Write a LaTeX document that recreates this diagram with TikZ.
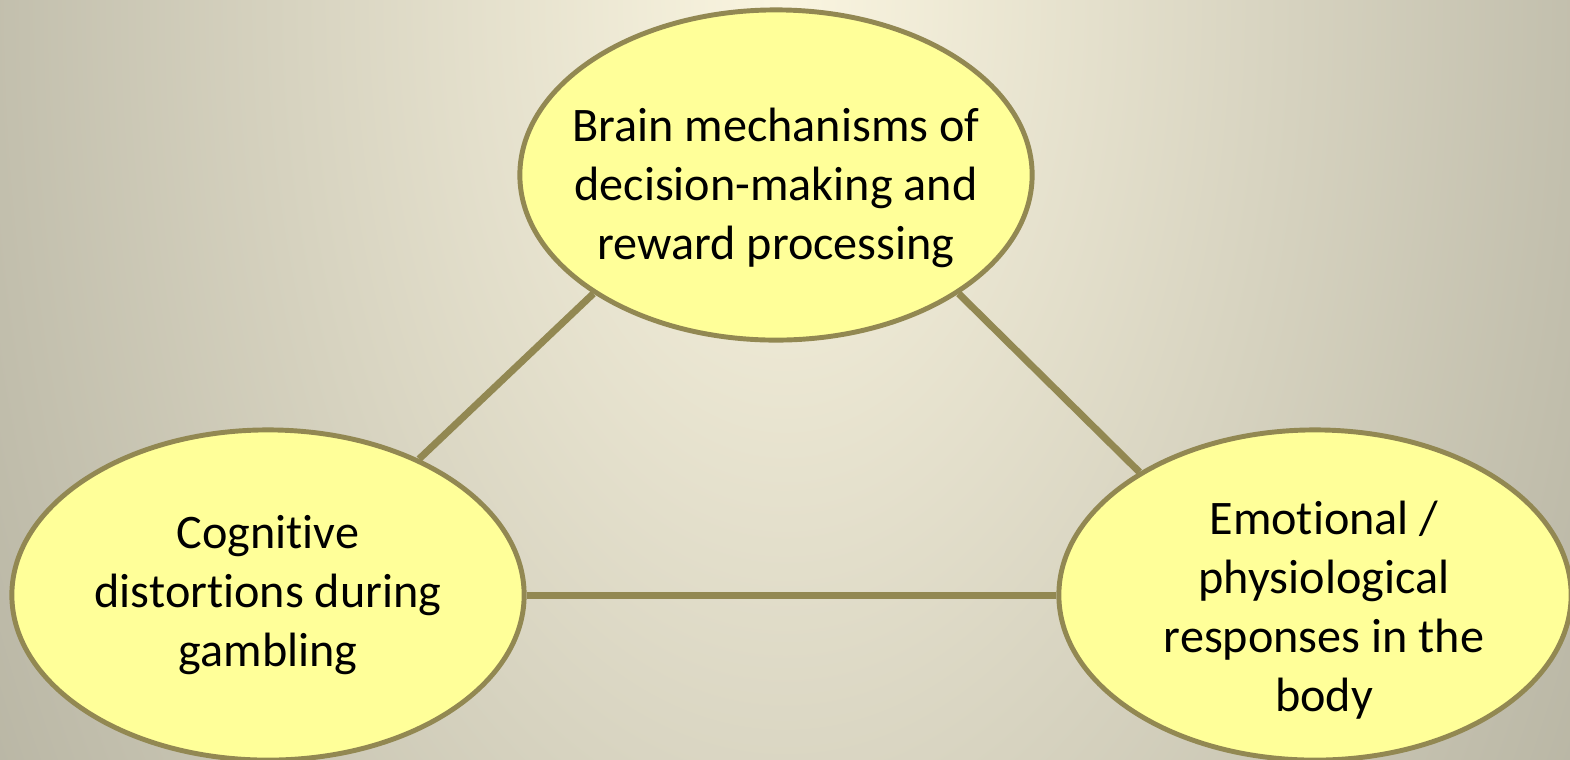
\documentclass[tikz,border=0pt]{standalone}
\usepackage{fontspec}
\setmainfont{Carlito}[Ligatures=NoCommon]
\usetikzlibrary{shapes.geometric}
\definecolor{bgin}{RGB}{250,245,224}
\definecolor{bgout}{RGB}{158,156,140}
\definecolor{olive}{RGB}{146,136,82}
\definecolor{pale}{RGB}{255,255,153}
\tikzset{
  topic/.style={ellipse,draw=olive,line width=1.4pt,fill=pale,minimum width=5.12cm,minimum height=3.30cm,inner sep=0pt},
  topictext/.style={align=center,inner sep=0pt,font=\fontsize{13.7}{16.8}\selectfont},
  link/.style={draw=olive,line width=2pt}
}
\begin{document}
\begin{tikzpicture}[x=0.01cm,y=0.01cm] % Define canvas
    \useasboundingbox (0,0) rectangle (1570,759);
    \begin{scope}
      \clip (0,0) rectangle (1570,759);
      \shade[inner color=bgin,outer color=bgout] (785,759) ellipse (1300 and 2200);
    \end{scope}

    \coordinate (ctop) at (776,584); \coordinate (cleft) at (268,164); \coordinate (cright) at (1315,164);

    % Add topic ellipses
    \node[topic,label={[topictext,yshift=-0.13cm]center:Brain mechanisms of\\decision-making and\\reward processing}] (brain) at (ctop) {};
    \node[topic,label={[topictext]center:Cognitive\\distortions during\\gambling}] (cogn) at (cleft) {};
    \node[topic,label={[topictext,xshift=0.09cm,yshift=-0.15cm]center:Emotional /\\physiological\\responses in the\\body}] (emot) at (cright) {};

    % Draw connecting lines
    \draw[link] (brain.213) -- (cogn.42);
    \draw[link] (brain.327) -- (emot.145);
    \draw[link] (cogn.east) -- (emot.west);

  \end{tikzpicture}
\end{document}
